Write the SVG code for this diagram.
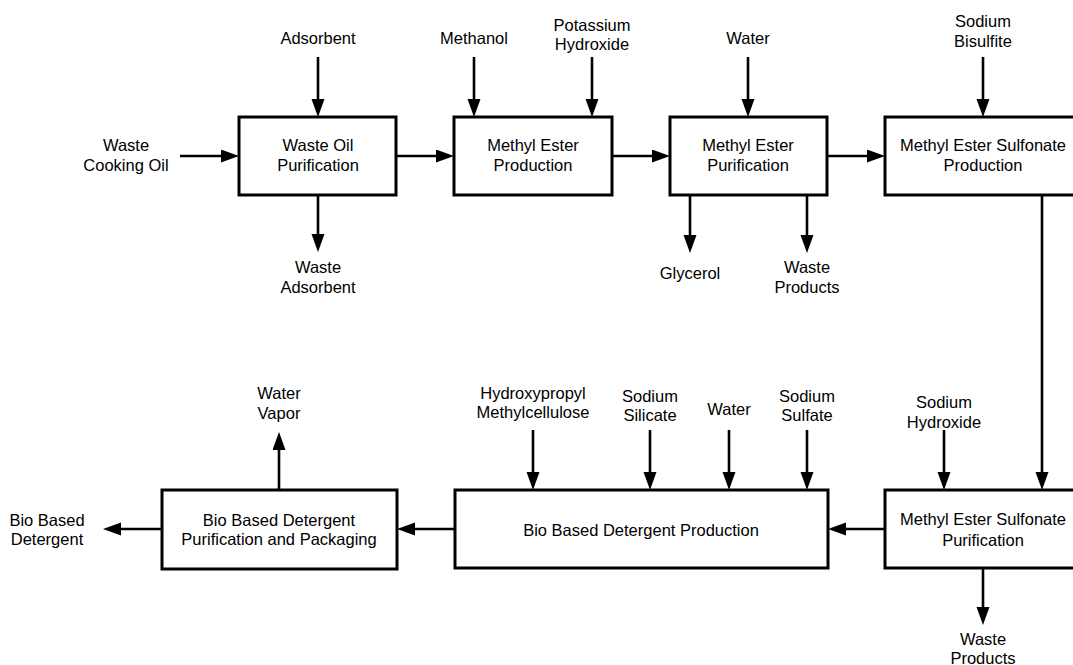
<svg xmlns="http://www.w3.org/2000/svg" width="1073" height="665" viewBox="0 0 1073 665">
<style>
text{font-family:"Liberation Sans",Arial,sans-serif;font-size:16.5px;fill:#000;text-anchor:middle}
.box{fill:#fff;stroke:#000;stroke-width:3}
.ln{stroke:#000;stroke-width:2.6;fill:none}
.ar{marker-end:url(#ah)}
</style>
<defs>
<marker id="ah" markerUnits="userSpaceOnUse" markerWidth="20" markerHeight="14" refX="10" refY="6.5" orient="auto">
<path d="M0,0 L18,6.5 L0,13 Z" fill="#000"/>
</marker>
</defs>
<rect width="1073" height="665" fill="#fff"/>
<g id="connectors">
<line class="ln ar" x1="180" y1="156" x2="231" y2="156"/>
<line class="ln ar" x1="318" y1="57" x2="318" y2="109"/>
<line class="ln ar" x1="318" y1="195" x2="318" y2="244"/>
<line class="ln ar" x1="396" y1="156" x2="446" y2="156"/>
<line class="ln ar" x1="474" y1="57" x2="474" y2="109"/>
<line class="ln ar" x1="592" y1="57" x2="592" y2="109"/>
<line class="ln ar" x1="612" y1="156" x2="662" y2="156"/>
<line class="ln ar" x1="748" y1="57" x2="748" y2="109"/>
<line class="ln ar" x1="690" y1="195" x2="690" y2="245"/>
<line class="ln ar" x1="807" y1="195" x2="807" y2="245"/>
<line class="ln ar" x1="827" y1="156" x2="877" y2="156"/>
<line class="ln ar" x1="983" y1="57" x2="983" y2="109"/>
<line class="ln ar" x1="1042" y1="195" x2="1042" y2="482"/>
<line class="ln ar" x1="944" y1="430" x2="944" y2="482"/>
<line class="ln ar" x1="983" y1="568" x2="983" y2="617"/>
<line class="ln ar" x1="885" y1="529" x2="836" y2="529"/>
<line class="ln ar" x1="533" y1="430" x2="533" y2="482"/>
<line class="ln ar" x1="650" y1="430" x2="650" y2="482"/>
<line class="ln ar" x1="729" y1="430" x2="729" y2="482"/>
<line class="ln ar" x1="807" y1="430" x2="807" y2="482"/>
<line class="ln ar" x1="455" y1="529" x2="405" y2="529"/>
<line class="ln ar" x1="279" y1="490" x2="279" y2="440"/>
<line class="ln ar" x1="162" y1="529" x2="111" y2="529"/>
</g>
<g id="labels">
<text x="126" y="151">Waste</text>
<text x="126" y="171">Cooking Oil</text>
<text x="318" y="44">Adsorbent</text>
<text x="318" y="273">Waste</text>
<text x="318" y="293">Adsorbent</text>
<text x="474" y="44">Methanol</text>
<text x="592" y="31">Potassium</text>
<text x="592" y="50">Hydroxide</text>
<text x="748" y="44">Water</text>
<text x="690" y="279">Glycerol</text>
<text x="807" y="273">Waste</text>
<text x="807" y="293">Products</text>
<text x="983" y="27">Sodium</text>
<text x="983" y="47">Bisulfite</text>
<text x="944" y="408">Sodium</text>
<text x="944" y="428">Hydroxide</text>
<text x="983" y="645">Waste</text>
<text x="983" y="664">Products</text>
<text x="533" y="399">Hydroxypropyl</text>
<text x="533" y="418">Methylcellulose</text>
<text x="650" y="402">Sodium</text>
<text x="650" y="421">Silicate</text>
<text x="729" y="415">Water</text>
<text x="807" y="402">Sodium</text>
<text x="807" y="421">Sulfate</text>
<text x="279" y="399">Water</text>
<text x="279" y="419">Vapor</text>
<text x="47" y="526">Bio Based</text>
<text x="47" y="545">Detergent</text>
</g>
<g id="n1"><rect class="box" x="239" y="117" width="157" height="78"/><text x="318" y="151">Waste Oil</text><text x="318" y="171">Purification</text></g>
<g id="n2"><rect class="box" x="454" y="117" width="158" height="78"/><text x="533" y="151">Methyl Ester</text><text x="533" y="171">Production</text></g>
<g id="n3"><rect class="box" x="670" y="117" width="157" height="78"/><text x="748" y="151">Methyl Ester</text><text x="748" y="171">Purification</text></g>
<g id="n4"><rect class="box" x="885" y="117" width="200" height="78"/><text x="983" y="151">Methyl Ester Sulfonate</text><text x="983" y="171">Production</text></g>
<g id="n5"><rect class="box" x="885" y="490" width="200" height="78"/><text x="983" y="525">Methyl Ester Sulfonate</text><text x="983" y="546">Purification</text></g>
<g id="n6"><rect class="box" x="455" y="490" width="373" height="78"/><text x="641" y="536">Bio Based Detergent Production</text></g>
<g id="n7"><rect class="box" x="162" y="490" width="235" height="79"/><text x="279" y="526">Bio Based Detergent</text><text x="279" y="545">Purification and Packaging</text></g>
</svg>
